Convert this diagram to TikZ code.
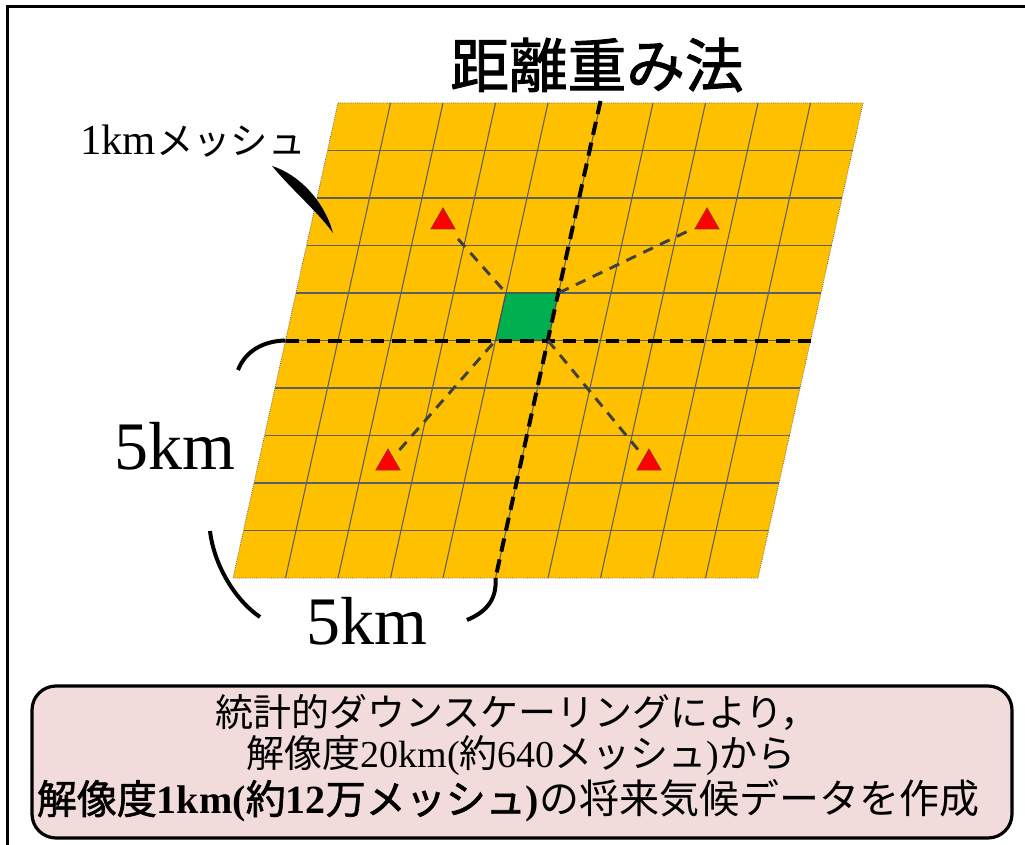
\documentclass[tikz,border=0pt]{standalone}
\usepackage{fontspec}
\setmainfont{Liberation Serif}
\newfontfamily\jp{Noto Sans CJK JP}
\newfontfamily\jpmid[FakeBold=1.6]{Noto Sans CJK JP}
\usetikzlibrary{shapes.geometric}
\definecolor{gridfill}{HTML}{FFC000}
\definecolor{cellgreen}{HTML}{00B050}
\definecolor{boxpink}{HTML}{F2DCDB}
\definecolor{gridline}{HTML}{5F5F5F}
\definecolor{conn}{HTML}{404040}
\definecolor{trired}{HTML}{FF0000}
\definecolor{triedge}{HTML}{A03030}
\begin{document}
\begin{tikzpicture}[x=0.75pt,y=-0.75pt,
  frameline/.style={line width=2.25pt,black},
  meshline/.style={gridline,line width=0.8pt},
  axisdash/.style={black,line width=3pt,dash pattern=on 10pt off 6pt},
  connline/.style={conn,line width=2.2pt,dash pattern=on 8pt off 6pt},
  station/.style={regular polygon,regular polygon sides=3,minimum size=21pt,inner sep=0pt,outer sep=0pt,fill=trired,draw=triedge,line width=0.6pt},
  bracket/.style={black,line width=3pt},
  infobox/.style={draw=black,line width=2.4pt,fill=boxpink,rounded corners=18pt},
  ]
\useasboundingbox (0,0) rectangle (1025,845);
% frame
\draw[frameline] (7,845) -- (7,6.5) -- (1025,6.5);
% title
\node[font=\jpmid\fontsize{44}{50}\selectfont] (title) at (597,65) {距離重み法};
% grid
\coordinate (gTL) at (338,103);
\coordinate (gTR) at (863,103);
\coordinate (gBR) at (758,578);
\coordinate (gBL) at (233,578);
\fill[gridfill] (gTL) -- (gTR) -- (gBR) -- (gBL) -- cycle;
\foreach \j in {1,...,9}
  \draw[meshline] ({338-10.5*\j},{103+47.5*\j}) -- ({863-10.5*\j},{103+47.5*\j});
\foreach \i in {1,...,9}
  \draw[meshline] ({338+52.5*\i},103) -- ({233+52.5*\i},578);
\draw[gridline,line width=0.6pt,densely dotted] (gTL) -- (gTR) -- (gBR) -- (gBL) -- cycle;
% green cell
\coordinate (ctl) at (506,293);
\coordinate (ctr) at (558.5,293);
\coordinate (cbr) at (548,340.5);
\coordinate (cbl) at (495.5,340.5);
\filldraw[fill=cellgreen,draw=black!70,line width=0.8pt] (ctl) -- (ctr) -- (cbr) -- (cbl) -- cycle;
% axes through the cell
\coordinate (hL) at (285.5,340.5);
\coordinate (hR) at (810.5,340.5);
\coordinate (vT) at (600.5,101);
\coordinate (vB) at (495.5,578);
\draw[axisdash] (hL) -- (hR);
\draw[axisdash] (vT) -- (vB);
% stations
\node[station] (s1) at (443,222) {};
\node[station] (s2) at (707,222) {};
\node[station] (s3) at (388,463) {};
\node[station] (s4) at (649,463) {};
\draw[connline,shorten <=17pt] (s1.center) -- (ctl);
\draw[connline,shorten <=17pt] (s2.center) -- (ctr);
\draw[connline,shorten <=13pt] (s3.center) -- (cbl);
\draw[connline,shorten <=13pt] (s4.center) -- (cbr);
% brackets
\draw[bracket] (hL) .. controls (262,341) and (245,352) .. (238,370);
\draw[bracket] (210,531) .. controls (214,565) and (235,600) .. (260,617);
\draw[bracket] (vB) .. controls (497,600) and (486,612) .. (467,620);
% labels
\node[font=\fontsize{51}{57}\selectfont] (lv) at (175,446) {5km};
\node[font=\fontsize{51}{57}\selectfont] (lh) at (367,621) {5km};
\node[anchor=west,inner sep=0pt] (lmesh) at (80,141) {\fontsize{32}{36}\selectfont 1km{\jp\fontsize{28}{32}\selectfont メッシュ}};
% pointer
\fill[black] (272,166) .. controls (298,174) and (324,200) .. (333,233)
  .. controls (318,212) and (292,190) .. (272,166) -- cycle;
% info box
\draw[infobox] (32,686) rectangle (1012,838);
\node[font=\jp\fontsize{28.5}{32}\selectfont] (t1) at (517,712) {統計的ダウンスケーリングにより，};
\node[font=\fontsize{28.5}{32}\selectfont] (t2) at (521,756) {{\jp 解像度}20km({\jp 約}640{\jp メッシュ}){\jp から}};
\node[font=\fontsize{30}{34}\selectfont] (t3) at (508,801) {{\jpmid 解像度}\textbf{1km(}{\jpmid 約}\textbf{12}{\jpmid 万メッシュ}\textbf{)}{\jp の将来気候データを作成}};
\end{tikzpicture}
\end{document}
